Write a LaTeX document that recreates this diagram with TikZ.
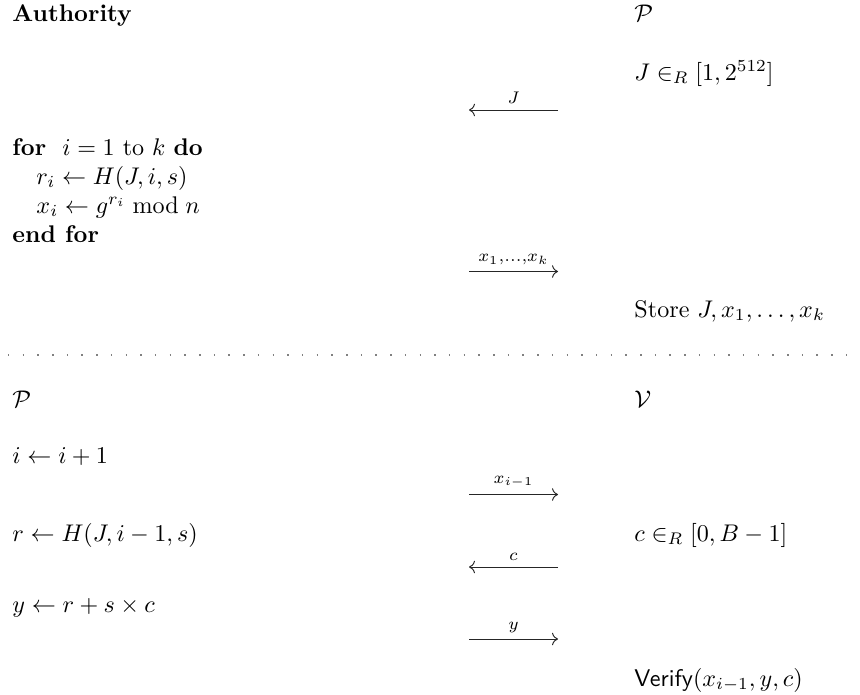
\documentclass[tikz,border=0pt]{standalone}
\usetikzlibrary{arrows.meta}
\begin{document}
\begin{tikzpicture}[x=0.415pt,y=-0.415pt,
  txt/.style={anchor=base west, inner sep=0pt},
  msg/.style={-{Computer Modern Rightarrow}, line width=0.4pt, black!85},
  lab/.style={above, inner sep=1pt, yshift=1.5pt, black},
  sep/.style={gray, line width=0.6pt, dash pattern=on 0.6pt off 5.5pt}]
\useasboundingbox (0,0) rectangle (860,694);
% header top
\node[txt] (auth) at (12,21) {\textbf{Authority}};
\node[txt] (p1) at (634,21) {$\mathcal{P}$};
\node[txt] (jr) at (634,80) {$J \in_R [1, 2^{512}]$};
% algorithm
\node[txt] (for) at (12,155) {\textbf{for} \ $i = 1$ to $k$ \textbf{do}};
\node[txt] (ri) at (36,184) {$r_i \leftarrow H(J,i,s)$};
\node[txt] (xi) at (36,213) {$x_i \leftarrow g^{r_i} \bmod n$};
\node[txt] (endfor) at (12,242) {\textbf{end for}};
\node[txt] (store) at (634,317) {Store $J, x_1, \ldots, x_k$};
% arrows top
\coordinate (aL1) at (469,110); \coordinate (aR1) at (558,110);
\draw[msg] (aR1) -- node[lab] {$\scriptstyle J$} (aL1);
\coordinate (aL2) at (469,271.5); \coordinate (aR2) at (558,271.5);
\draw[msg] (aL2) -- node[lab] {$\scriptstyle x_1,\ldots,x_k$} (aR2);
% separator
\coordinate (s1) at (8,355); \coordinate (s2) at (856,355);
\draw[sep] (s1) -- (s2);
% bottom
\node[txt] (p2) at (12,407) {$\mathcal{P}$};
\node[txt] (v) at (634,407) {$\mathcal{V}$};
\node[txt] (inc) at (12,463) {$i \leftarrow i+1$};
\node[txt] (rh) at (12,541) {$r \leftarrow H(J,i-1,s)$};
\node[txt] (cr) at (634,541) {$c \in_R [0, B-1]$};
\node[txt] (yy) at (12,612) {$y \leftarrow r + s \times c$};
\node[txt] (ver) at (634,686) {\textsf{Verify}$(x_{i-1}, y, c)$};
\coordinate (aL3) at (469,494.5); \coordinate (aR3) at (558,494.5);
\draw[msg] (aL3) -- node[lab] {$\scriptstyle x_{i-1}$} (aR3);
\coordinate (aL4) at (469,567); \coordinate (aR4) at (558,567);
\draw[msg] (aR4) -- node[lab] {$\scriptstyle c$} (aL4);
\coordinate (aL5) at (469,639); \coordinate (aR5) at (558,639);
\draw[msg] (aL5) -- node[lab] {$\scriptstyle y$} (aR5);
\end{tikzpicture}
\end{document}
